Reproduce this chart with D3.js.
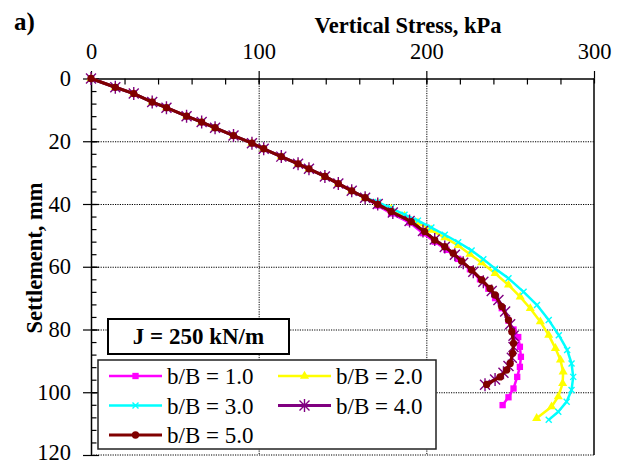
<!DOCTYPE html>
<html>
<head>
<meta charset="utf-8">
<script src="https://cdn.jsdelivr.net/npm/d3@7"></script>
<style>
  body { margin: 0; background: #fff; }
</style>
</head>
<body>
<svg id="chart" width="622" height="463"></svg>
<script>
/*** DATA ***/

// shared first part of all five curves (they overlap up to ~40 mm)
const commonStress = [0, 14.5, 25.5, 36.5, 45, 57, 66, 74, 85, 96, 103, 113.5, 123.5, 130, 139.5, 147.5, 155.5, 163.5];
const commonSettle = [0, 2.8, 4.8, 7.5, 9.3, 12, 13.9, 15.7, 18.2, 20.6, 22.4, 24.9, 27.2, 28.8, 31.2, 33.5, 35.8, 38];

const stress1 = [171, 179, 190, 198, 205, 212, 219, 226, 232, 237, 241, 245, 249, 252, 254.8, 255.8, 256.4, 255.8, 254.2, 252, 249, 245.5];
const settle1 = [40.5, 43, 45.9, 49.3, 52, 54.6, 57.5, 60.8, 64, 67, 70, 73.2, 77.2, 80, 82.4, 85.5, 88.7, 91.9, 95.1, 98.8, 101.6, 104.1];

const stress2 = [171, 179, 187, 195, 203, 211, 219, 226, 233, 241, 249, 256, 262, 268, 273, 277, 280, 281.6, 281.3, 278.7, 274.7, 265.8];
const settle2 = [39.7, 41.6, 43.8, 46, 48.3, 50.7, 53.2, 56, 58.7, 62.1, 65.8, 69.6, 73.3, 77.5, 81.8, 86, 89.7, 93.5, 97.2, 101.4, 104.6, 108.3];

const stress3 = [171, 179, 187, 195, 203, 211, 219, 227, 234, 241, 249, 258, 266, 273, 279, 284, 286.6, 287.6, 286.6, 283.7, 278.7, 273];
const settle3 = [39.4, 41.3, 43.4, 45.3, 47.5, 49.8, 52.2, 54.8, 57.6, 60.6, 63.7, 68, 72.2, 77, 81.8, 86.5, 90.8, 95.1, 99.3, 103, 106.2, 108.8];

const stress4 = [171, 180, 190, 198, 205, 211, 217, 222, 228, 234, 239, 243, 247, 250, 252, 252, 251, 249, 246, 241, 235];
const settle4 = [40, 42.7, 45.4, 48.6, 51.3, 53.7, 56.2, 58.7, 61.6, 64.8, 67.7, 70.6, 74.3, 78.3, 82, 85.6, 89, 91.6, 93.8, 95.9, 97.6];

const stress5 = [171, 179, 191, 199, 205, 211, 216, 221, 227, 233, 238, 241, 245, 249, 251, 252, 251.5, 250, 248, 244, 236];
const settle5 = [40.1, 42.4, 45.6, 48.8, 51.5, 53.6, 55.7, 58.2, 61, 64.2, 66.9, 69, 72.7, 77, 80.7, 84.4, 87.6, 90.8, 92.9, 95.1, 97.5];

const seriesNames = ["b/B = 1.0", "b/B = 2.0", "b/B = 3.0", "b/B = 4.0", "b/B = 5.0"];
const xTicks = [0, 100, 200, 300];
const yTicks = [0, 20, 40, 60, 80, 100, 120];

/*** SETUP ***/

const SERIF = "'Liberation Serif'";

let svg = d3.select("#chart").style("font-family", SERIF);

let box = {left: 91, right: 594, top: 78.5, bottom: 455};

let x = d3.scaleLinear().domain([0, 300]).range([box.left, box.right]),
    y = d3.scaleLinear().domain([0, 120]).range([box.top, box.bottom]);

function join(s, d) {
    let st = commonStress.concat(s), se = commonSettle.concat(d);
    return st.map((v, i) => ({stress: v, settle: se[i]}));
}

let series = [
    {name: seriesNames[0], color: "#ff00ff", marker: "square",   width: 2.5, data: join(stress1, settle1)},
    {name: seriesNames[1], color: "#ffff00", marker: "triangle", width: 2.5, data: join(stress2, settle2)},
    {name: seriesNames[2], color: "#00ffff", marker: "cross",    width: 2.5, data: join(stress3, settle3)},
    {name: seriesNames[3], color: "#800080", marker: "star",     width: 3,   data: join(stress4, settle4)},
    {name: seriesNames[4], color: "#800000", marker: "circle",   width: 3,   data: join(stress5, settle5)}
];

function markerPath(type) {
    if (type === "square") return d3.symbol(d3.symbolSquare, 40)();
    if (type === "triangle") return d3.symbol(d3.symbolTriangle, 36)();
    if (type === "circle") return d3.symbol(d3.symbolCircle, 42)();
    if (type === "cross") return "M-3,-3L3,3M-3,3L3,-3";
    // asterisk: x plus vertical bar
    return "M-5,-5L5,5M-5,5L5,-5M0,-6.5L0,6.5";
}

function addText(sel, size, bold) {
    return sel.append("text")
        .style("font-family", SERIF)
        .attr("font-size", size)
        .attr("font-weight", bold ? "bold" : "normal")
        .attr("fill", "#000");
}

/*** GRID ***/

let plotH = box.bottom - box.top, plotW = box.right - box.left;

svg.append("g")
    .attr("transform", `translate(0, ${box.top})`)
    .call(d3.axisTop(x).tickValues([100, 200]).tickSize(-plotH).tickFormat(""))
    .call(g => g.select(".domain").remove())
    .call(g => g.selectAll("text").remove())
    .selectAll("line").attr("stroke", "#000").attr("stroke-dasharray", "1.2,1.2");

svg.append("g")
    .attr("transform", `translate(${box.left}, 0)`)
    .call(d3.axisLeft(y).tickValues([20, 40, 60, 80, 100]).tickSize(-plotW).tickFormat(""))
    .call(g => g.select(".domain").remove())
    .call(g => g.selectAll("text").remove())
    .selectAll("line").attr("stroke", "#000").attr("stroke-dasharray", "1.2,1.2");

// bottom edge dotted, right edge solid
svg.append("line")
    .attr("x1", box.left).attr("x2", box.right).attr("y1", box.bottom).attr("y2", box.bottom)
    .attr("stroke", "#000").attr("stroke-dasharray", "1.2,1.2");
svg.append("line")
    .attr("x1", box.right).attr("x2", box.right).attr("y1", box.top).attr("y2", box.bottom)
    .attr("stroke", "#000").attr("stroke-width", 1.5);

/*** AXES ***/

// minor ticks pointing inside
svg.append("g")
    .attr("transform", `translate(0, ${box.top})`)
    .call(d3.axisTop(x).tickValues(d3.range(20, 300, 20)).tickSize(-6).tickFormat(""))
    .call(g => g.select(".domain").remove())
    .call(g => g.selectAll("text").remove())
    .selectAll("line").attr("stroke-width", 1.2);

svg.append("g")
    .attr("transform", `translate(${box.left}, 0)`)
    .call(d3.axisLeft(y).tickValues(d3.range(4, 120, 4)).tickSize(-5.5).tickFormat(""))
    .call(g => g.select(".domain").remove())
    .call(g => g.selectAll("text").remove())
    .selectAll("line").attr("stroke-width", 1.2);

// major axes
let xAxis = svg.append("g")
    .attr("transform", `translate(0, ${box.top})`)
    .call(d3.axisTop(x).tickValues(xTicks).tickSizeInner(7.5).tickSizeOuter(0).tickPadding(12))
    .style("font-family", SERIF);
xAxis.select(".domain").attr("stroke-width", 1.5);
xAxis.selectAll("line").attr("stroke-width", 1.2);
xAxis.selectAll("text").attr("font-size", 22.5).attr("fill", "#000").style("font-family", SERIF);
xAxis.selectAll(".tick").append("line").attr("y1", 0).attr("y2", 5).attr("stroke", "#000").attr("stroke-width", 1.2);

let yAxis = svg.append("g")
    .attr("transform", `translate(${box.left}, 0)`)
    .call(d3.axisLeft(y).tickValues(yTicks).tickSizeInner(8).tickSizeOuter(0).tickPadding(12))
    .style("font-family", SERIF);
yAxis.select(".domain").attr("stroke-width", 1.5);
yAxis.selectAll("line").attr("stroke-width", 1.2);
yAxis.selectAll("text").attr("font-size", 22.5).attr("fill", "#000").style("font-family", SERIF);
yAxis.selectAll(".tick").append("line").attr("x1", 0).attr("x2", 8).attr("stroke", "#000").attr("stroke-width", 1.2);
// last label sits on the picture's bottom edge, nudge it up a little
yAxis.selectAll(".tick text").filter(d => d === 120).attr("dy", "0.2em");

/*** CURVES ***/

let line = d3.line().x(d => x(d.stress)).y(d => y(d.settle));

series.forEach(s => {
    let g = svg.append("g");
    g.append("path")
        .datum(s.data)
        .attr("d", line)
        .attr("fill", "none")
        .attr("stroke", s.color)
        .attr("stroke-width", s.width)
        .attr("stroke-linejoin", "round");
    let lined = (s.marker === "cross" || s.marker === "star");
    g.selectAll("path.mk")
        .data(s.data).enter()
        .append("path")
        .classed("mk", true)
        .attr("transform", d => `translate(${x(d.stress)}, ${y(d.settle)})`)
        .attr("d", markerPath(s.marker))
        .attr("fill", lined ? "none" : s.color)
        .attr("stroke", s.color)
        .attr("stroke-width", lined ? 1.4 : 0);
});

/*** LABELS ***/

addText(svg, 25, true)
    .attr("x", 14).attr("y", 30)
    .text("a)");

addText(svg, 22.5, true)
    .attr("x", 408).attr("y", 33)
    .attr("text-anchor", "middle")
    .text("Vertical Stress, kPa");

addText(svg, 22.5, true)
    .attr("transform", "translate(42, 258) rotate(-90)")
    .attr("text-anchor", "middle")
    .text("Settlement, mm");

// J box
svg.append("rect")
    .attr("x", 108).attr("y", 319).attr("width", 181).attr("height", 35)
    .attr("fill", "#fff").attr("stroke", "#000").attr("stroke-width", 2);
addText(svg, 23, true)
    .attr("x", 198.5).attr("y", 344)
    .attr("text-anchor", "middle")
    .text("J = 250 kN/m");

/*** LEGEND ***/

let legend = svg.append("g");
legend.append("rect")
    .attr("x", 98).attr("y", 360).attr("width", 338).attr("height", 89)
    .attr("fill", "#fff").attr("stroke", "#222").attr("stroke-width", 1.5);

let legX = [109, 278], legY = [376, 405.5, 435];

series.forEach((s, i) => {
    let lx = legX[i % 2], ly = legY[Math.floor(i / 2)];
    let lg = legend.append("g").attr("transform", `translate(${lx}, ${ly})`);
    lg.append("line")
        .attr("x1", 0).attr("x2", 53).attr("y1", 0).attr("y2", 0)
        .attr("stroke", s.color).attr("stroke-width", s.width);
    let lined = (s.marker === "cross" || s.marker === "star");
    lg.append("path")
        .attr("transform", "translate(26.5, 0)")
        .attr("d", markerPath(s.marker))
        .attr("fill", lined ? "none" : s.color)
        .attr("stroke", s.color)
        .attr("stroke-width", lined ? 1.4 : 0);
    addText(lg, 23, false)
        .attr("x", 58).attr("y", 8)
        .text(s.name);
});
</script>
</body>
</html>
